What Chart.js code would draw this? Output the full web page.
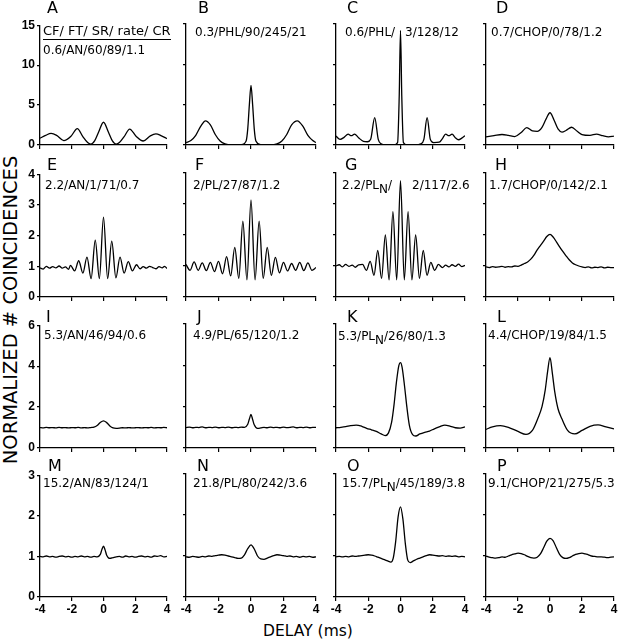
<!DOCTYPE html>
<html>
<head>
<meta charset="utf-8">
<title>Normalized coincidences vs delay</title>
<script src="https://cdn.jsdelivr.net/npm/chart.js@4.4.0/dist/chart.umd.min.js"></script>
<style>
  body { margin: 0; width: 622px; height: 640px; position: relative; background: #fff; overflow: hidden;
         font-family: "DejaVu Sans", sans-serif; color: #000; }
  .panel { position: absolute; }
  .letter { position: absolute; font-size: 16px; line-height: 16px; white-space: nowrap; }
  .note { position: absolute; font-size: 12px; line-height: 12px; white-space: nowrap; }
  .sub { position: relative; top: 4px; }
  .head { font-size: 13px; border-bottom: 1.3px solid #000; padding-bottom: 1px; }
  #ytitle { position: absolute; font-size: 19.5px; white-space: nowrap; transform: translate(-50%, -50%) rotate(-90deg); }
  #xtitle { position: absolute; font-size: 15.5px; white-space: nowrap; transform: translate(-50%, -50%); }
</style>
</head>
<body>
<div id="ytitle">NORMALIZED # COINCIDENCES</div>
<div id="xtitle">DELAY (ms)</div>

<script>
// ---- data (delay in ms, normalized # coincidences) ----
const xTicks = [-4, -2, 0, 2, 4];
const rowYMax = [15, 4, 6, 3];
const rowYStep = [5, 1, 2, 1];

const fineDelay = [-4,-3.8,-3.6,-3.4,-3.2,-3,-2.8,-2.6,-2.4,-2.2,-2,-1.8,-1.6,-1.4,-1.2,-1,-0.8,-0.6,-0.4,-0.2,0,
                   0.2,0.4,0.6,0.8,1,1.2,1.4,1.6,1.8,2,2.2,2.4,2.6,2.8,3,3.2,3.4,3.6,3.8,4];
const peakDelay = [-4,-3.8,-3.6,-3.4,-3.2,-3,-2.8,-2.6,-2.4,-2.2,-2,-1.8,-1.6,-1.4,-1.2,-1,-0.8,-0.6,-0.4,-0.2,-0.1,0,0.1,
                   0.2,0.4,0.6,0.8,1,1.2,1.4,1.6,1.8,2,2.2,2.4,2.6,2.8,3,3.2,3.4,3.6,3.8,4];

// A  0.6/AN/60/89/1.1
const aDelay = [-4,-3.65,-3.3,-2.95,-2.5,-2.05,-1.65,-1.3,-1,-0.8,-0.55,-0.3,0,0.3,0.55,0.8,1,1.3,1.65,2.05,2.5,2.95,3.3,3.65,4];
const aCoinc = [0.85,1.2,1.45,1.2,0.55,1.1,2.05,1.05,0.3,0.12,0.55,1.65,2.85,1.65,0.55,0.12,0.3,1.05,2,1.1,0.5,1.15,1.4,1.15,0.8];
// B  0.3/PHL/90/245/21
const bDelay = [-4,-3.7,-3.4,-3.1,-2.8,-2.5,-2.2,-1.9,-1.6,-1.2,-0.6,-0.3,-0.2,-0.1,0,0.1,0.2,0.3,0.6,1.2,1.6,1.9,2.2,2.5,2.85,3.2,3.5,3.8,4];
const bCoinc = [0.3,0.55,1.2,2.3,3,2.5,1.3,0.5,0.15,0.03,0.05,0.5,2,5,7.4,5,2,0.5,0.05,0.03,0.15,0.5,1.3,2.5,3,2.3,1.2,0.55,0.3];
// C  0.6/PHL/ 3/128/12
const cDelay = [-4,-3.75,-3.5,-3.25,-3.05,-2.85,-2.6,-2.3,-2.05,-1.85,-1.6,-1.38,-1.2,-0.9,-0.4,-0.18,-0.08,0,0.08,0.18,0.4,0.9,
                1.25,1.45,1.65,1.85,2.05,2.4,2.6,2.8,3,3.2,3.4,3.6,3.8,4];
const cCoinc = [1.1,0.7,0.95,1.35,1.15,1.35,0.9,0.45,0.4,0.7,3.4,0.7,0.15,0.02,0,0.3,6,14.2,6,0.3,0,0.02,
                0.15,0.7,3.4,0.7,0.3,0.35,0.8,1.35,1.15,1.35,0.9,0.65,0.85,1.15];
// D  0.7/CHOP/0/78/1.2
const dDelay = [-4,-3.5,-3,-2.6,-2.2,-1.8,-1.45,-1.1,-0.8,-0.5,-0.25,0,0.25,0.5,0.75,1,1.35,1.7,2,2.5,2.9,3.3,3.65,4];
const dCoinc = [1,1.15,1.3,1.2,1.05,1.55,2.15,1.75,1.7,2.2,3.2,4,3.1,2,1.6,1.8,2.2,1.7,1.3,1.2,1.35,1.15,1,1.1];
// E  2.2/AN/1/71/0.7
const eDelay = [-4,-3.8,-3.6,-3.4,-3.2,-3,-2.8,-2.6,-2.4,-2.2,-2.08,-1.82,-1.56,-1.3,-1.04,-0.78,-0.52,-0.26,0,
                0.26,0.52,0.78,1.04,1.3,1.56,1.82,2.08,2.3,2.5,2.7,2.9,3.1,3.3,3.5,3.7,3.85,4];
const eCoinc = [0.95,0.91,1,0.94,0.99,0.95,1.01,0.94,0.98,0.9,1.03,0.85,1.18,0.78,1.3,0.6,1.85,0.6,2.6,
                0.6,1.82,0.62,1.3,0.78,1.15,0.85,1.05,0.92,0.99,0.94,1,0.96,0.92,0.99,0.95,1,0.93];
// F  2/PL/27/87/1.2
const fDelay = [-4,-3.75,-3.5,-3.25,-3,-2.75,-2.5,-2.25,-2,-1.75,-1.5,-1.25,-1,-0.75,-0.5,-0.25,0,
                0.25,0.5,0.75,1,1.25,1.5,1.75,2,2.25,2.5,2.75,3,3.25,3.5,3.75,4];
const fCoinc = [1.05,0.86,1.13,0.86,1.1,0.85,1.12,0.82,1.15,0.75,1.3,0.68,1.6,0.6,2.45,0.55,3.13,
                0.55,2.45,0.6,1.6,0.7,1.28,0.78,1.12,0.84,1.08,0.86,1.12,0.85,1.1,0.86,0.95];
// G  2.2/PLN/2/117/2.6
const gDelay = [-4,-3.8,-3.6,-3.4,-3.2,-3,-2.8,-2.6,-2.35,-2.115,-1.88,-1.645,-1.41,-1.175,-0.94,-0.705,-0.47,-0.235,0,
                0.235,0.47,0.705,0.94,1.175,1.41,1.645,1.88,2.115,2.35,2.6,2.8,3,3.2,3.4,3.6,3.8,4];
const gCoinc = [1,1.04,0.97,1.05,0.99,1.03,0.96,1.04,1.05,0.86,1.15,0.7,1.5,0.6,2,0.55,2.75,0.55,3.75,
                0.55,2.75,0.55,2,0.6,1.5,0.7,1.12,0.86,1.05,0.95,1.03,0.97,1.04,0.99,1.06,0.98,1.02];
// H  1.7/CHOP/0/142/2.1
const hCoinc = [0.97,0.95,0.98,0.96,0.97,0.99,0.96,0.98,0.97,1,0.99,1.03,1.08,1.13,1.22,1.35,1.52,1.66,1.8,1.95,2.02,
                1.93,1.78,1.62,1.47,1.33,1.2,1.1,1.04,1,0.97,0.95,0.97,0.94,0.96,0.95,0.97,0.94,0.96,0.95,0.95];
// I  5.3/AN/46/94/0.6
const iCoinc = [1,0.98,1.01,0.99,1,0.98,1.01,0.99,1,0.98,1,0.99,1.01,0.98,1,0.98,1,1.02,1.1,1.25,1.33,
                1.24,1.08,0.98,0.96,0.97,0.99,0.98,1,0.98,0.99,1,0.98,1,0.99,1.01,0.98,1,0.99,1.01,0.99];
// J  4.9/PL/65/120/1.2
const jCoinc = [0.99,1.01,0.98,1,0.99,1.02,0.98,1,0.99,1.01,0.98,1,0.99,1.01,0.98,1,0.99,1.01,1,1.15,1.4,1.62,1.38,
                1.12,0.95,0.97,1,0.98,1.01,0.99,1,0.98,1.01,0.99,1,1.02,0.98,1,0.99,1.01,0.98,1,1];
// K  5.3/PLN/26/80/1.3
const kDelay = [-4,-3.7,-3.4,-3.1,-2.75,-2.4,-2.1,-1.8,-1.5,-1.2,-0.95,-0.75,-0.55,-0.4,-0.25,-0.1,0,
                0.1,0.25,0.4,0.55,0.75,0.95,1.2,1.5,1.8,2.1,2.4,2.75,3.1,3.4,3.7,4];
const kCoinc = [0.98,1,1.03,1.08,1.11,1.05,0.95,0.88,0.8,0.68,0.6,0.72,1.25,2.1,3.2,4,4.13,
                3.9,3,1.95,1.1,0.65,0.58,0.68,0.76,0.82,0.93,1.02,1.11,1.05,0.98,0.96,1.02];
// L  4.4/CHOP/19/84/1.5
const lDelay = [-4,-3.6,-3.1,-2.6,-2,-1.5,-1.1,-0.75,-0.5,-0.3,-0.15,0,0.15,0.3,0.5,0.75,1.1,1.55,2,2.5,3,3.5,4];
const lCoinc = [0.9,1.02,1.08,1,0.8,0.66,0.85,1.45,2,2.8,3.7,4.37,3.6,2.7,1.9,1.4,0.85,0.68,0.85,1.05,1.12,1.02,0.92];
// M  15.2/AN/83/124/1
const mCoinc = [1,0.99,1.01,0.99,1,0.98,1,1.01,0.99,1,0.98,1,0.99,1.01,0.99,1,0.98,1,0.99,1.05,1.17,1.25,1.16,
                1.03,0.95,0.97,0.99,1,0.98,1.01,0.99,1,0.98,1,1.01,0.99,1,0.98,1.01,1,1.02,0.99,1];
// N  21.8/PL/80/242/3.6
const nCoinc = [0.98,0.97,0.99,0.98,0.97,0.99,0.98,1,0.99,1.01,1.02,1.03,1.02,1,0.98,0.96,0.94,0.95,1.03,1.18,1.27,
                1.17,1,0.93,0.92,0.95,0.98,1.01,1.03,1.02,1.01,0.99,1,0.98,0.99,0.97,0.99,0.98,0.99,0.97,0.98];
// O  15.7/PLN/45/189/3.8
const oDelay = [-4,-3.8,-3.6,-3.4,-3.2,-3,-2.8,-2.6,-2.4,-2.2,-2,-1.8,-1.6,-1.4,-1.2,-1,-0.8,-0.6,-0.45,-0.3,-0.15,0,
                0.15,0.3,0.45,0.6,0.8,1,1.2,1.4,1.6,1.8,2,2.2,2.4,2.6,2.8,3,3.2,3.4,3.6,3.8,4];
const oCoinc = [0.98,0.99,0.98,0.99,0.98,1,0.99,1,1.01,1.02,1.03,1.02,1,0.97,0.94,0.91,0.88,0.85,0.95,1.35,1.95,2.2,
                1.9,1.3,0.9,0.84,0.88,0.92,0.95,0.98,1.01,1.03,1.02,1.01,1,1.01,0.99,1,0.99,1,0.98,0.99,0.98];
// P  9.1/CHOP/21/275/5.3
const pCoinc = [1,0.97,0.96,0.95,0.96,0.98,0.97,1,1.03,1.05,1.07,1.06,1.03,0.99,0.96,0.95,0.97,1.05,1.2,1.36,1.43,
                1.37,1.2,1.04,0.96,0.94,0.96,1,1.04,1.06,1.07,1.05,1.03,1,0.99,0.98,0.98,0.97,0.96,0.97,0.98];

// ---- layout ----
const colLeft = [40, 186, 336, 486];
const colRight = [167, 316, 465, 614];
const rowTop = [24, 173, 324, 474];
const rowBottom = [145, 297, 448, 597];
const letterY = [7.5, 164, 316, 465];

const panels = [
  { letter: 'A', row: 0, col: 0, x: aDelay, y: aCoinc, lx: 47,
    notes: [['<span class="head">CF/ FT/ SR/ rate/ CR</span>', 43, 31], ['0.6/AN/60/89/1.1', 43, 50]] },
  { letter: 'B', row: 0, col: 1, x: bDelay, y: bCoinc, lx: 198, notes: [['0.3/PHL/90/245/21', 195, 32]] },
  { letter: 'C', row: 0, col: 2, x: cDelay, y: cCoinc, lx: 347, notes: [['0.6/PHL/', 345, 32], ['3/128/12', 405, 32]] },
  { letter: 'D', row: 0, col: 3, x: dDelay, y: dCoinc, lx: 496, notes: [['0.7/CHOP/0/78/1.2', 491, 32]] },
  { letter: 'E', row: 1, col: 0, x: eDelay, y: eCoinc, lx: 47, notes: [['2.2/AN/1/71/0.7', 45, 185]] },
  { letter: 'F', row: 1, col: 1, x: fDelay, y: fCoinc, lx: 195, notes: [['2/PL/27/87/1.2', 193, 185]] },
  { letter: 'G', row: 1, col: 2, x: gDelay, y: gCoinc, lx: 345,
    notes: [['2.2/PL<span class="sub">N</span>/', 342, 185], ['2/117/2.6', 412, 185]] },
  { letter: 'H', row: 1, col: 3, x: fineDelay, y: hCoinc, lx: 495, notes: [['1.7/CHOP/0/142/2.1', 489, 185]] },
  { letter: 'I', row: 2, col: 0, x: fineDelay, y: iCoinc, lx: 46, notes: [['5.3/AN/46/94/0.6', 44, 335]] },
  { letter: 'J', row: 2, col: 1, x: peakDelay, y: jCoinc, lx: 197, notes: [['4.9/PL/65/120/1.2', 193, 335]] },
  { letter: 'K', row: 2, col: 2, x: kDelay, y: kCoinc, lx: 347,
    notes: [['5.3/PL<span class="sub">N</span>/26/80/1.3', 338, 336]] },
  { letter: 'L', row: 2, col: 3, x: lDelay, y: lCoinc, lx: 497, notes: [['4.4/CHOP/19/84/1.5', 488, 335]] },
  { letter: 'M', row: 3, col: 0, x: peakDelay, y: mCoinc, lx: 48, notes: [['15.2/AN/83/124/1', 43, 483]] },
  { letter: 'N', row: 3, col: 1, x: fineDelay, y: nCoinc, lx: 197, notes: [['21.8/PL/80/242/3.6', 193, 483]] },
  { letter: 'O', row: 3, col: 2, x: oDelay, y: oCoinc, lx: 347,
    notes: [['15.7/PL<span class="sub">N</span>/45/189/3.8', 342, 483]] },
  { letter: 'P', row: 3, col: 3, x: fineDelay, y: pCoinc, lx: 497, notes: [['9.1/CHOP/21/275/5.3', 488, 483]] }
];

const padL = 34, padT = 8, padR = 8, padB = 24;
const tickFont = { family: 'Liberation Sans', size: 12, weight: 'bold' };

function addText(cls, html, x, top) {
  const el = document.createElement('div');
  el.className = cls;
  el.innerHTML = html;
  el.style.left = x + 'px';
  el.style.top = top + 'px';
  document.body.appendChild(el);
}

panels.forEach(function(p) {
  const L = colLeft[p.col], R = colRight[p.col], T = rowTop[p.row], B = rowBottom[p.row];
  const box = document.createElement('div');
  box.className = 'panel';
  box.style.left = (L - padL) + 'px';
  box.style.top = (T - padT) + 'px';
  const cv = document.createElement('canvas');
  cv.width = (R - L) + padL + padR;
  cv.height = (B - T) + padT + padB;
  box.appendChild(cv);
  document.body.appendChild(box);

  new Chart(cv, {
    type: 'line',
    data: {
      datasets: [{
        data: p.x.map(function(d, i) { return { x: d, y: p.y[i] }; }),
        borderColor: '#000',
        borderWidth: 1.3,
        pointRadius: 0,
        cubicInterpolationMode: 'monotone',
        fill: false
      }]
    },
    options: {
      responsive: false,
      animation: false,
      layout: { padding: { left: 0, top: padT, right: padR, bottom: 0 } },
      plugins: { legend: { display: false }, tooltip: { enabled: false } },
      scales: {
        x: {
          type: 'linear', min: xTicks[0], max: xTicks[xTicks.length - 1],
          border: { display: true, color: '#000', width: 1.3 },
          grid: { drawOnChartArea: false, drawTicks: true, tickLength: 4, color: '#000', lineWidth: 1.2 },
          ticks: { display: p.row === 3, stepSize: 2, color: '#000', font: tickFont, padding: 1, maxRotation: 0 },
          afterFit: function(s) { s.height = padB; }
        },
        y: {
          min: 0, max: rowYMax[p.row],
          border: { display: true, color: '#000', width: 1.3 },
          grid: { drawOnChartArea: false, drawTicks: true, tickLength: 3, color: '#000', lineWidth: 1.2 },
          ticks: { display: p.col === 0, stepSize: rowYStep[p.row], color: '#000', font: tickFont, padding: 2 },
          afterFit: function(s) { s.width = padL; }
        }
      }
    }
  });

  addText('letter', p.letter, p.lx, letterY[p.row] - 7.5);
  p.notes.forEach(function(n) { addText('note', n[0], n[1], n[2] - 6); });
});

const yt = document.getElementById('ytitle');
yt.style.left = '10px'; yt.style.top = '310px';
const xt = document.getElementById('xtitle');
xt.style.left = '308px'; xt.style.top = '631px';
</script>
</body>
</html>
